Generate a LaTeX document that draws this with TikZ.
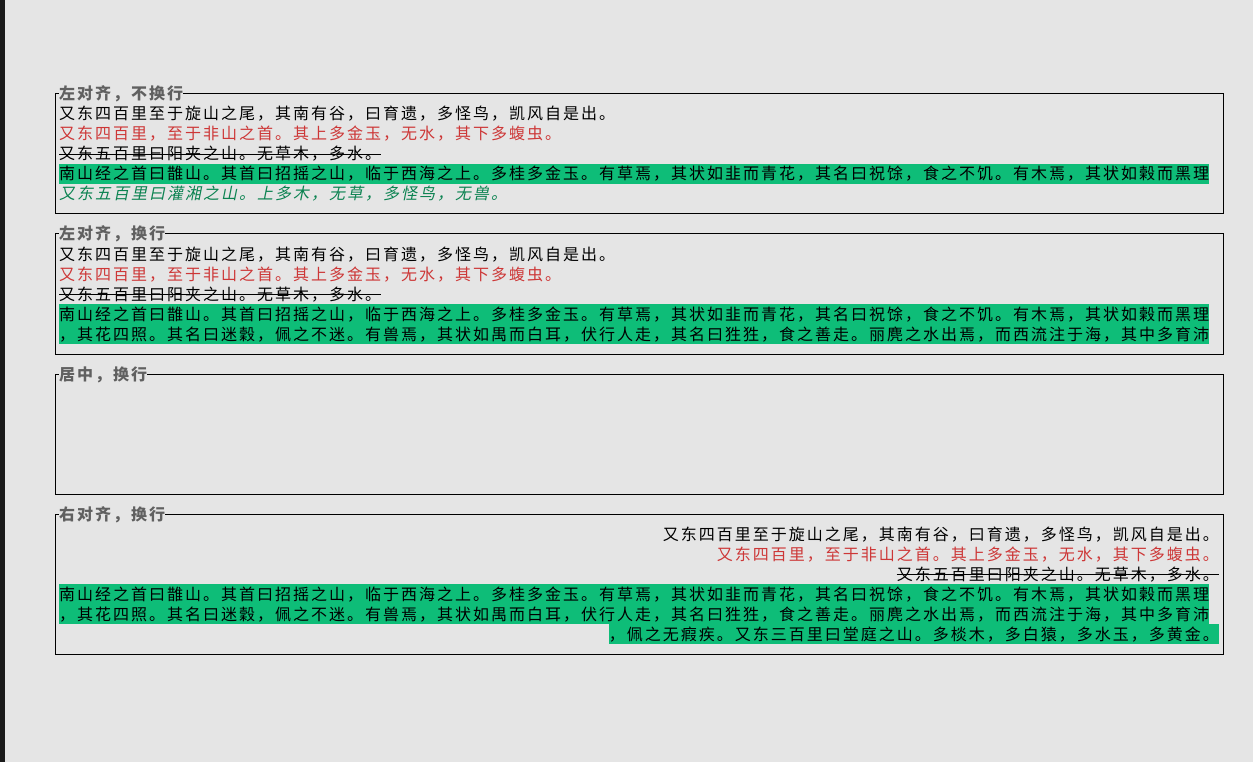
\documentclass[tikz,border=0pt]{standalone}
\usepackage{fontspec}
\usepackage{tikz}
\newfontfamily\cjkfont{Noto Sans CJK SC}[LetterSpace=12.5]
\newfontfamily\cjkslant{Noto Sans CJK SC}[LetterSpace=12.5, FakeSlant=0.2]
\definecolor{panel}{RGB}{229,229,229}
\definecolor{edge}{RGB}{26,26,26}
\definecolor{captiongray}{RGB}{96,96,96}
\definecolor{redtext}{RGB}{205,55,55}
\definecolor{greentext}{RGB}{10,130,80}
\definecolor{marker}{RGB}{14,189,120}
\tikzset{frame/.style = {draw = black, line width = 1pt}}
\tikzset{caption/.style = {fill = panel, text = captiongray, inner sep = 0, text height = 16pt,
                           text depth = 4pt, anchor = base west,
                           font = \cjkfont\bfseries\fontsize{16}{20}\selectfont}}
\tikzset{row/.style = {inner sep = 0, text height = 16pt, text depth = 4pt,
                       font = \cjkfont\fontsize{16}{20}\selectfont}}
\tikzset{hl/.style = {row, fill = marker}}

\begin{document}
\begin{tikzpicture}[x=1pt, y=-1pt]
    \useasboundingbox (0, 0) rectangle (1253, 762);
    \fill [panel] (0, 0) rectangle (1253, 762);
    \fill [edge] (0, 0) rectangle (5, 762);

    % left, no wrap
    \draw [frame] (55, 94) rectangle (1223, 214);
    \node [caption] (t1) at (59, 100) {左对齐，不换行};
    \node [row, anchor = base west] (a1) at (59, 120) {又东四百里至于旋山之尾，其南有谷，曰育遗，多怪鸟，凯风自是出。};
    \node [row, anchor = base west, text = redtext] (a2) at (59, 140) {又东四百里，至于非山之首。其上多金玉，无水，其下多蝮虫。};
    \node [row, anchor = base west] (a3) at (59, 160) {又东五百里曰阳夹之山。无草木，多水。};
    \draw (a3.west) -- (a3.east);
    \node [hl, anchor = base west] (a4) at (59, 180) {南山经之首曰䧿山。其首曰招摇之山，临于西海之上。多桂多金玉。有草焉，其状如韭而青花，其名曰祝馀，食之不饥。有木焉，其状如榖而黑理};
    \node [row, anchor = base west, text = greentext, font = \cjkslant\fontsize{16}{20}\selectfont] (a5) at (59, 200) {又东五百里曰灌湘之山。上多木，无草，多怪鸟，无兽。};

    % left, wrap
    \draw [frame] (55, 234) rectangle (1223, 354);
    \node [caption] (t2) at (59, 240) {左对齐，换行};
    \node [row, anchor = base west] (b1) at (59, 260) {又东四百里至于旋山之尾，其南有谷，曰育遗，多怪鸟，凯风自是出。};
    \node [row, anchor = base west, text = redtext] (b2) at (59, 280) {又东四百里，至于非山之首。其上多金玉，无水，其下多蝮虫。};
    \node [row, anchor = base west] (b3) at (59, 300) {又东五百里曰阳夹之山。无草木，多水。};
    \draw (b3.west) -- (b3.east);
    \node [hl, anchor = base west] (b4) at (59, 320) {南山经之首曰䧿山。其首曰招摇之山，临于西海之上。多桂多金玉。有草焉，其状如韭而青花，其名曰祝馀，食之不饥。有木焉，其状如榖而黑理};
    \node [hl, anchor = base west] (b5) at (59, 340) {，其花四照。其名曰迷穀，佩之不迷。有兽焉，其状如禺而白耳，伏行人走，其名曰狌狌，食之善走。丽麂之水出焉，而西流注于海，其中多育沛};

    % centred, wrap
    \draw [frame] (55, 374) rectangle (1223, 494);
    \node [caption] (t3) at (59, 380) {居中，换行};

    % right, wrap
    \draw [frame] (55, 514) rectangle (1223, 654);
    \node [caption] (t4) at (59, 520) {右对齐，换行};
    \node [row, anchor = base east] (d1) at (1219, 540) {又东四百里至于旋山之尾，其南有谷，曰育遗，多怪鸟，凯风自是出。};
    \node [row, anchor = base east, text = redtext] (d2) at (1219, 560) {又东四百里，至于非山之首。其上多金玉，无水，其下多蝮虫。};
    \node [row, anchor = base east] (d3) at (1219, 580) {又东五百里曰阳夹之山。无草木，多水。};
    \draw (d3.west) -- (d3.east);
    \node [hl, anchor = base west] (d4) at (59, 600) {南山经之首曰䧿山。其首曰招摇之山，临于西海之上。多桂多金玉。有草焉，其状如韭而青花，其名曰祝馀，食之不饥。有木焉，其状如榖而黑理};
    \node [hl, anchor = base west] (d5) at (59, 620) {，其花四照。其名曰迷穀，佩之不迷。有兽焉，其状如禺而白耳，伏行人走，其名曰狌狌，食之善走。丽麂之水出焉，而西流注于海，其中多育沛};
    \node [hl, anchor = base east] (d6) at (1219, 640) {，佩之无瘕疾。又东三百里曰堂庭之山。多棪木，多白猿，多水玉，多黄金。};
\end{tikzpicture}
\end{document}
